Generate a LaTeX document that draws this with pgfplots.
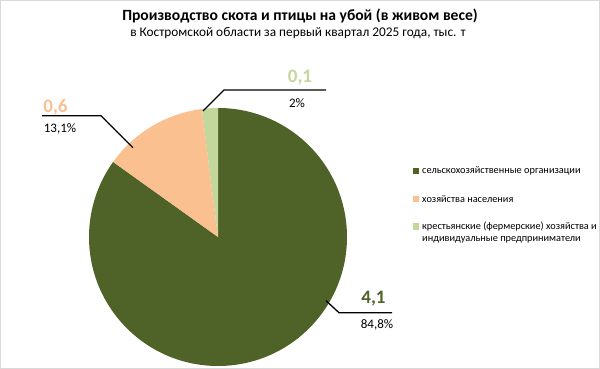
\documentclass[border=0pt]{standalone}
\usepackage{pgfplots}
\pgfplotsset{compat=1.18}
\usepackage{pgfplotstable}
\usepackage{fontspec}
\setmainfont{Carlito}
\definecolor{darkg}{HTML}{4F6228}
\definecolor{peach}{HTML}{FAC090}
\definecolor{lightg}{HTML}{C3D69B}
\definecolor{frame}{HTML}{D9D9D9}

\pgfplotstableread{
id value pct
1 4.1 84.8
2 0.6 13.1
3 0.1 2
}\piedata
\pgfplotstablegetelem{0}{pct}\of\piedata \let\pa\pgfplotsretval
\pgfplotstablegetelem{1}{pct}\of\piedata \let\pb\pgfplotsretval
\pgfplotstablegetelem{2}{pct}\of\piedata \let\pc\pgfplotsretval
\pgfmathsetmacro\tot{\pa+\pb+\pc}
\pgfmathsetmacro\aA{90}
\pgfmathsetmacro\aB{90-\pa/\tot*360}
\pgfmathsetmacro\aC{\aB-\pb/\tot*360}
\pgfmathsetmacro\aD{\aC-\pc/\tot*360}

\begin{document}
\begin{tikzpicture}
\begin{axis}[hide axis, x=1pt, y=1pt, xmin=0, xmax=600, ymin=0, ymax=369,
  scale only axis, clip=false]
% frame
\draw[frame, line width=1pt] (axis cs:0.5,0.5) rectangle (axis cs:599.5,368.5);
% pie
\fill[darkg] (axis cs:218,132) -- ++(\aA:129pt) arc[start angle=\aA, end angle=\aB, radius=129pt] -- cycle;
\fill[peach] (axis cs:218,132) -- ++(\aB:129pt) arc[start angle=\aB, end angle=\aC, radius=129pt] -- cycle;
\fill[lightg] (axis cs:218,132) -- ++(\aC:129pt) arc[start angle=\aC, end angle=\aD, radius=129pt] -- cycle;
% titles
\node[font=\bfseries\fontsize{15.6}{18}\selectfont] at (axis cs:300,353) {Производство скота и птицы на убой (в живом весе)};
\node[font=\fontsize{13.3}{15}\selectfont] at (axis cs:298,336) {в Костромской области за первый квартал 2025 года, тыс. т};
% leader lines
\draw[line width=1.3pt] (axis cs:326,68.3) -- (axis cs:339,56.3) -- (axis cs:392,56.3);
\draw[line width=1.3pt] (axis cs:42,253.3) -- (axis cs:101,253.3) -- (axis cs:133,221.3);
\draw[line width=1.3pt] (axis cs:203,258) -- (axis cs:224,279) -- (axis cs:326,279);
% data labels
\node[font=\bfseries\fontsize{19}{22}\selectfont, text=darkg] at (axis cs:373.5,70) {4,1};
\node[font=\fontsize{13}{15}\selectfont] at (axis cs:377,44) {84,8\%};
\node[font=\bfseries\fontsize{19}{22}\selectfont, text=peach] at (axis cs:55.5,262) {0,6};
\node[font=\fontsize{13}{15}\selectfont] at (axis cs:60,240) {13,1\%};
\node[font=\bfseries\fontsize{19}{22}\selectfont, text=lightg] at (axis cs:300,291) {0,1};
\node[font=\fontsize{13}{15}\selectfont] at (axis cs:297,266) {2\%};
% legend
\fill[darkg] (axis cs:412.5,194.5) rectangle (axis cs:419,201);
\fill[peach] (axis cs:412.5,166.5) rectangle (axis cs:419,173);
\fill[lightg] (axis cs:412.5,139) rectangle (axis cs:419,145.5);
\node[font=\fontsize{10.3}{12}\selectfont, anchor=west, inner sep=0pt] at (axis cs:422,198) {сельскохозяйственные организации};
\node[font=\fontsize{10.3}{12}\selectfont, anchor=west, inner sep=0pt] at (axis cs:422,170) {хозяйства населения};
\node[font=\fontsize{10.3}{12}\selectfont, anchor=west, inner sep=0pt] at (axis cs:422,142.3) {крестьянские (фермерские) хозяйства и};
\node[font=\fontsize{10.3}{12}\selectfont, anchor=west, inner sep=0pt] at (axis cs:422,129) {индивидуальные предприниматели};
\end{axis}
\end{tikzpicture}
\end{document}
